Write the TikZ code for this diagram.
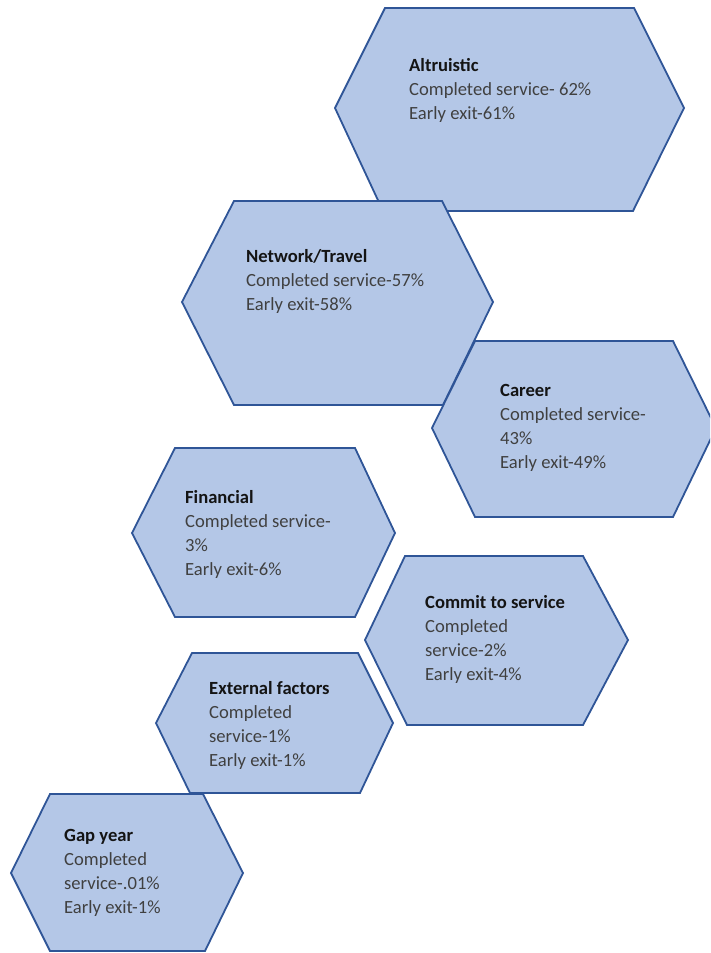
\documentclass[tikz,border=0pt]{standalone}
\usepackage{fontspec}
\setmainfont{Carlito}
\definecolor{hexfill}{RGB}{180,199,231}
\definecolor{hexline}{RGB}{47,85,151}
\definecolor{bodytxt}{RGB}{64,64,64}
\definecolor{titletxt}{RGB}{20,20,20}
\tikzset{
  hexbox/.style={draw=hexline, fill=hexfill, line width=1.8pt, line join=miter},
  hextext/.style={anchor=base west, inner sep=0pt, align=left,
    font=\fontsize{18.6}{24}\selectfont, text=bodytxt}
}
\newcommand\hextitle[1]{\textbf{\color{titletxt}#1}}
\begin{document}
\begin{tikzpicture}[x=1pt,y=-1pt]
\useasboundingbox (0,0) rectangle (710,953);
\clip (0,0) rectangle (710,953);
% Altruistic
\draw[hexbox] (335,108) -- (385,8) -- (634,8) -- (684,108) -- (633,211) -- (383,211) -- cycle;
\node[hextext] (altruistic) at (409,119) {\hextitle{Altruistic}\\Completed service- 62\%\\Early exit-61\%};
% Network/Travel
\draw[hexbox] (182,302) -- (234,201) -- (442,201) -- (493,302) -- (443,405) -- (234,405) -- cycle;
\node[hextext] (network) at (246,310) {\hextitle{Network/Travel}\\Completed service-57\%\\Early exit-58\%};
% Career
\draw[hexbox] (432,428) -- (475,341) -- (673,341) -- (716,428) -- (673,517) -- (475,517) -- cycle;
\node[hextext] (career) at (500,468) {\hextitle{Career}\\Completed service-\\43\%\\Early exit-49\%};
% Financial
\draw[hexbox] (132,533) -- (175,448) -- (355,448) -- (395,533) -- (355,617) -- (175,617) -- cycle;
\node[hextext] (financial) at (185,575) {\hextitle{Financial}\\Completed service-\\3\%\\Early exit-6\%};
% Commit to service
\draw[hexbox] (365,640) -- (405,556) -- (583,556) -- (628,640) -- (583,725) -- (407,725) -- cycle;
\node[hextext] (commit) at (425,680) {\hextitle{Commit to service}\\Completed\\service-2\%\\Early exit-4\%};
% External factors
\draw[hexbox] (156,723) -- (192,653) -- (358,653) -- (393,723) -- (360,793) -- (190,793) -- cycle;
\node[hextext] (external) at (209,766) {\hextitle{External factors}\\Completed\\service-1\%\\Early exit-1\%};
% Gap year
\draw[hexbox] (11,873) -- (50,794) -- (203,794) -- (243,873) -- (205,951) -- (50,951) -- cycle;
\node[hextext] (gapyear) at (64,913) {\hextitle{Gap year}\\Completed\\service-.01\%\\Early exit-1\%};
\end{tikzpicture}
\end{document}
